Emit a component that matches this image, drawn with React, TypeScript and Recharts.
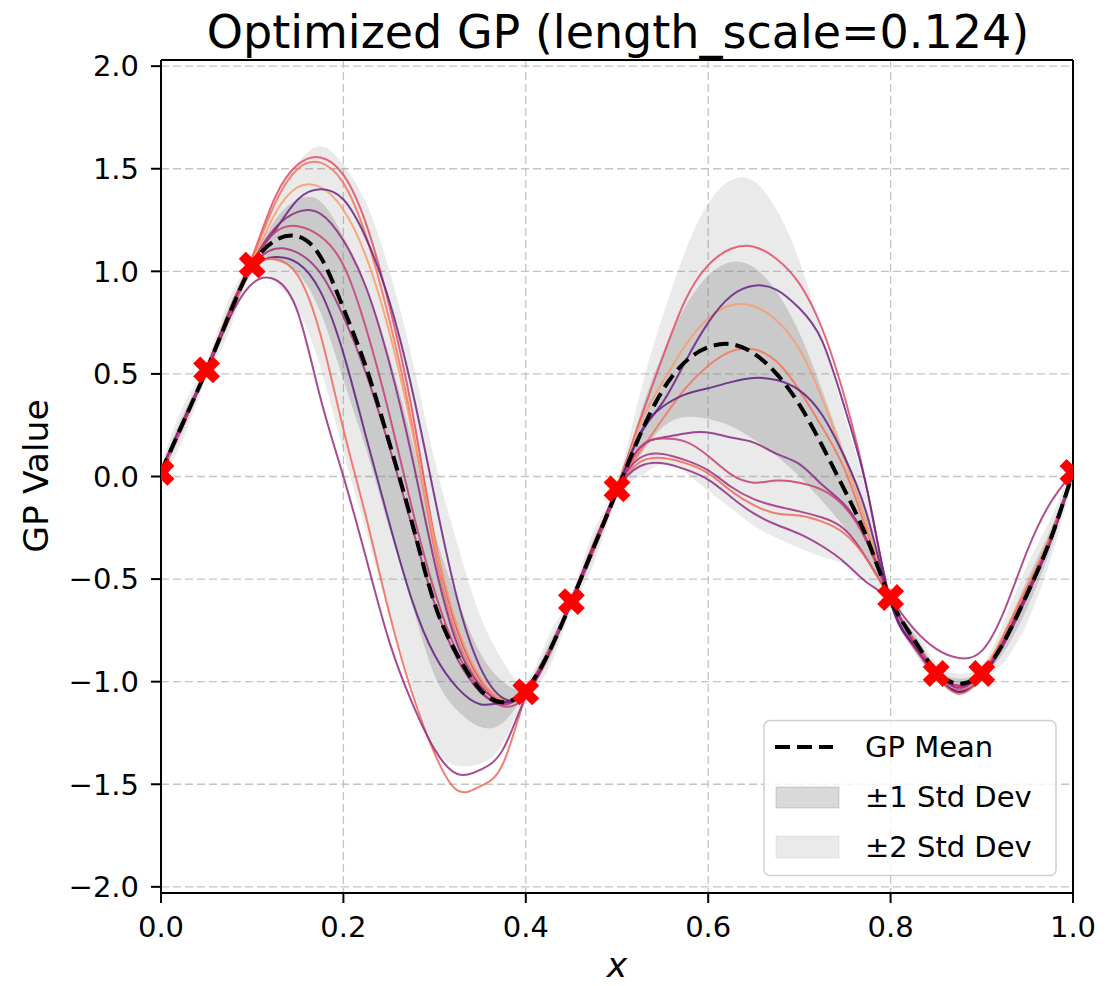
import React from 'react';
import {
  ComposedChart, Line, Area, Scatter, XAxis, YAxis, CartesianGrid, ReferenceLine,
} from 'recharts';

const X_GRID = [
  0, 0.025, 0.05, 0.075, 0.1, 0.125, 0.15, 0.175, 0.2, 0.225,
  0.25, 0.275, 0.3, 0.325, 0.35, 0.375, 0.4, 0.425, 0.45, 0.475,
  0.5, 0.525, 0.55, 0.575, 0.6, 0.625, 0.65, 0.675, 0.7, 0.725,
  0.75, 0.775, 0.8, 0.825, 0.85, 0.875, 0.9, 0.925, 0.95, 0.975, 1.0,
];

const GP_MEAN = [
  0.02, 0.27, 0.52, 0.79, 1.03, 1.15, 1.17, 1.07, 0.82, 0.53,
  0.17, -0.22, -0.62, -0.87, -1.04, -1.10, -1.04, -0.86, -0.61, -0.34,
  -0.07, 0.20, 0.42, 0.56, 0.63, 0.645, 0.60, 0.50, 0.35, 0.15,
  -0.07, -0.31, -0.60, -0.79, -0.95, -1.01, -0.96, -0.80, -0.57, -0.31, 0.02,
];

const GP_STD = [
  0.02, 0.04, 0.02, 0.04, 0.02, 0.10, 0.18, 0.27, 0.35, 0.40,
  0.42, 0.40, 0.35, 0.27, 0.18, 0.10, 0.02, 0.04, 0.02, 0.04,
  0.02, 0.10, 0.18, 0.27, 0.35, 0.40, 0.42, 0.40, 0.35, 0.27,
  0.18, 0.10, 0.02, 0.03, 0.02, 0.025, 0.02, 0.05, 0.07, 0.05, 0.02,
];

const SAMPLE_1 = [
  0.03, 0.28, 0.53, 0.81, 1.07, 1.36, 1.52, 1.555, 1.47, 1.23,
  0.84, 0.33, -0.30, -0.75, -0.99, -1.09, -1.05, -0.86, -0.60, -0.32,
  -0.05, 0.27, 0.58, 0.86, 1.03, 1.11, 1.12, 1.06, 0.94, 0.72,
  0.38, -0.08, -0.61, -0.83, -0.98, -1.04, -0.98, -0.80, -0.57, -0.31, 0.02,
];
const SAMPLE_2 = [
  0.01, 0.26, 0.52, 0.80, 1.06, 1.33, 1.50, 1.53, 1.43, 1.17,
  0.77, 0.26, -0.36, -0.79, -1.01, -1.09, -1.05, -0.85, -0.61, -0.34,
  -0.06, 0.12, 0.28, 0.43, 0.54, 0.61, 0.62, 0.56, 0.42, 0.24,
  0.03, -0.28, -0.59, -0.81, -0.97, -1.05, -0.97, -0.79, -0.56, -0.32, 0.02,
];
const SAMPLE_3 = [
  0.02, 0.27, 0.51, 0.79, 1.04, 1.28, 1.41, 1.41, 1.30, 1.07,
  0.71, 0.23, -0.31, -0.73, -0.98, -1.09, -1.05, -0.86, -0.62, -0.35,
  -0.08, 0.25, 0.46, 0.64, 0.77, 0.835, 0.83, 0.76, 0.62, 0.38,
  0.08, -0.25, -0.60, -0.80, -0.96, -1.03, -0.95, -0.76, -0.53, -0.29, 0.02,
];
const SAMPLE_4 = [
  0.03, 0.28, 0.52, 0.79, 1.04, 1.20, 1.35, 1.40, 1.35, 1.16,
  0.86, 0.43, -0.10, -0.60, -0.93, -1.08, -1.06, -0.87, -0.61, -0.33,
  -0.07, 0.20, 0.36, 0.56, 0.75, 0.88, 0.93, 0.91, 0.82, 0.66,
  0.33, -0.08, -0.61, -0.82, -0.97, -1.05, -0.98, -0.81, -0.58, -0.32, 0.01,
];
const SAMPLE_5 = [
  0.02, 0.26, 0.52, 0.80, 1.04, 1.21, 1.29, 1.28, 1.15, 0.92,
  0.56, 0.10, -0.42, -0.82, -1.02, -1.10, -1.05, -0.85, -0.60, -0.33,
  -0.06, 0.14, 0.19, 0.21, 0.215, 0.19, 0.165, 0.11, 0.06, -0.04,
  -0.14, -0.32, -0.60, -0.80, -0.96, -1.02, -0.96, -0.79, -0.56, -0.30, 0.03,
];
const SAMPLE_6 = [
  0.02, 0.27, 0.53, 0.80, 1.04, 1.19, 1.22, 1.17, 1.03, 0.72,
  0.31, -0.15, -0.56, -0.86, -1.04, -1.12, -1.07, -0.87, -0.61, -0.34,
  -0.07, 0.14, 0.185, 0.17, 0.10, 0.01, -0.03, -0.02, -0.03, -0.065,
  -0.15, -0.33, -0.60, -0.79, -0.95, -1.02, -0.97, -0.81, -0.58, -0.32, 0.02,
];
const SAMPLE_7 = [
  0.02, 0.27, 0.52, 0.79, 1.02, 1.11, 1.09, 0.99, 0.78, 0.50,
  0.15, -0.24, -0.62, -0.89, -1.05, -1.11, -1.05, -0.86, -0.61, -0.34,
  -0.06, 0.09, 0.11, 0.08, 0.03, -0.05, -0.11, -0.145, -0.17, -0.20,
  -0.26, -0.41, -0.59, -0.74, -0.84, -0.885, -0.85, -0.65, -0.36, -0.13, 0.02,
];
const SAMPLE_8 = [
  0.03, 0.27, 0.52, 0.79, 1.01, 1.07, 1.04, 0.90, 0.60, 0.19,
  -0.22, -0.60, -0.87, -1.03, -1.11, -1.10, -1.05, -0.86, -0.62, -0.35,
  -0.07, 0.21, 0.34, 0.40, 0.43, 0.46, 0.48, 0.47, 0.42, 0.30,
  0.09, -0.20, -0.61, -0.82, -0.97, -1.05, -0.98, -0.80, -0.57, -0.31, 0.02,
];
const SAMPLE_9 = [
  0.01, 0.26, 0.52, 0.78, 1.01, 1.06, 0.98, 0.69, 0.23, -0.20,
  -0.66, -1.05, -1.35, -1.53, -1.51, -1.40, -1.07, -0.85, -0.61, -0.35,
  -0.07, 0.07, 0.09, 0.065, 0.015, -0.07, -0.14, -0.18, -0.19, -0.22,
  -0.28, -0.41, -0.60, -0.80, -0.97, -1.06, -0.97, -0.77, -0.54, -0.30, 0.02,
];
const SAMPLE_10 = [
  0.03, 0.27, 0.51, 0.77, 0.94, 0.96, 0.80, 0.38, 0.00, -0.40,
  -0.80, -1.10, -1.33, -1.45, -1.43, -1.33, -1.07, -0.86, -0.61, -0.34,
  -0.07, 0.05, 0.065, 0.035, -0.015, -0.10, -0.18, -0.235, -0.28, -0.34,
  -0.42, -0.52, -0.61, -0.81, -0.96, -1.03, -0.96, -0.80, -0.57, -0.32, 0.02,
];

const SAMPLES = [SAMPLE_1, SAMPLE_2, SAMPLE_3, SAMPLE_4, SAMPLE_5, SAMPLE_6, SAMPLE_7, SAMPLE_8, SAMPLE_9, SAMPLE_10];
const SAMPLE_COLORS = [
  '#e34e65', '#f4735d', '#fb9b6b', '#6a2383', '#8a2a82',
  '#c83e73', '#a3307e', '#5f1f80', '#f0695c', '#952c80',
];

const TRAIN_X = [0, 0.05, 0.1, 0.4, 0.45, 0.5, 0.8, 0.85, 0.9, 1.0];
const TRAIN_Y = [0.02, 0.52, 1.03, -1.05, -0.61, -0.06, -0.59, -0.96, -0.96, 0.02];

const X_TICKS = [0, 0.2, 0.4, 0.6, 0.8, 1.0];
const Y_TICKS = [-2, -1.5, -1, -0.5, 0, 0.5, 1, 1.5, 2];

const TITLE = 'Optimized GP (length_scale=0.124)';
const X_LABEL = 'x';
const Y_LABEL = 'GP Value';
const LEGEND_LABELS = ['GP Mean', '±1 Std Dev', '±2 Std Dev'];

const FONT = '"DejaVu Sans", "Liberation Sans", sans-serif';

const chartData = X_GRID.map((x, i) => {
  const row: Record<string, any> = {
    x,
    mean: GP_MEAN[i],
    band1: [GP_MEAN[i] - GP_STD[i], GP_MEAN[i] + GP_STD[i]],
    band2: [GP_MEAN[i] - 2 * GP_STD[i], GP_MEAN[i] + 2 * GP_STD[i]],
  };
  SAMPLES.forEach((s, k) => { row['s' + k] = s[i]; });
  return row;
});

const trainData = TRAIN_X.map((x, i) => ({ x, y: TRAIN_Y[i] }));

const fmt = (v: number) => v.toFixed(1).replace('-', '\u2212');

const XMark = (props: any) => {
  const { cx, cy } = props;
  if (cx == null || cy == null) return null;
  const t = 5, L = 14;
  const base = [
    [t, L], [t, t], [L, t], [L, -t], [t, -t], [t, -L],
    [-t, -L], [-t, -t], [-L, -t], [-L, t], [-t, t], [-t, L],
  ];
  const s = Math.SQRT1_2;
  const pts = base.map(([x, y]) => `${cx + (x - y) * s},${cy + (x + y) * s}`).join(' ');
  return <polygon points={pts} fill="#ff0000" stroke="none" />;
};

export default function App() {
  const W = 1104, H = 978;
  return (
    <div style={{ position: 'relative', width: W, height: H, background: '#fff' }}>
      <ComposedChart
        width={W}
        height={970}
        data={chartData}
        margin={{ top: 52, right: 39, left: 0, bottom: 0 }}
      >
        <CartesianGrid stroke="#c4c4c4" strokeDasharray="8 4" strokeWidth={1.3} />
        <XAxis
          dataKey="x"
          type="number"
          domain={[0, 1]}
          ticks={X_TICKS}
          tickFormatter={fmt}
          allowDataOverflow
          height={85}
          tickSize={10}
          tickMargin={13}
          axisLine={{ stroke: '#000', strokeWidth: 2 }}
          tickLine={{ stroke: '#000', strokeWidth: 2 }}
          tick={{ fill: '#000', fontSize: 29, fontFamily: FONT }}
        />
        <YAxis
          type="number"
          domain={[-2.03, 2.03]}
          ticks={Y_TICKS}
          tickFormatter={fmt}
          allowDataOverflow
          width={153}
          tickSize={10}
          tickMargin={12}
          axisLine={{ stroke: '#000', strokeWidth: 2 }}
          tickLine={{ stroke: '#000', strokeWidth: 2 }}
          tick={{ fill: '#000', fontSize: 29, fontFamily: FONT }}
        />
        <Area
          dataKey="band2"
          type="natural"
          fill="#808080"
          fillOpacity={0.17}
          stroke="none"
          isAnimationActive={false}
          activeDot={false}
        />
        <Area
          dataKey="band1"
          type="natural"
          fill="#808080"
          fillOpacity={0.3}
          stroke="none"
          isAnimationActive={false}
          activeDot={false}
        />
        {SAMPLES.map((_, k) => (
          <Line
            key={k}
            dataKey={'s' + k}
            type="natural"
            stroke={SAMPLE_COLORS[k]}
            strokeOpacity={0.85}
            strokeWidth={2}
            dot={false}
            activeDot={false}
            isAnimationActive={false}
          />
        ))}
        <Line
          dataKey="mean"
          type="natural"
          stroke="#000"
          strokeWidth={4}
          strokeDasharray="15 7"
          dot={false}
          activeDot={false}
          isAnimationActive={false}
        />
        <Scatter data={trainData} dataKey="y" shape={XMark} isAnimationActive={false} />
        <ReferenceLine y={2.03} stroke="#000" strokeWidth={2} />
        <ReferenceLine x={1} stroke="#000" strokeWidth={2} />
      </ComposedChart>
      <svg
        width={W}
        height={H}
        overflow="visible"
        style={{ position: 'absolute', left: 0, top: 0, pointerEvents: 'none', overflow: 'visible' }}
      >
        <text x={610} y={40} textAnchor="middle" fontSize={46} fontFamily={FONT} fill="#000">
          {TITLE}
        </text>
        <text
          x={0}
          y={0}
          transform="translate(40,468) rotate(-90)"
          textAnchor="middle"
          fontSize={34.5}
          fontFamily={FONT}
          fill="#000"
        >
          {Y_LABEL}
        </text>
        <text x={609} y={969} textAnchor="middle" fontSize={34.5} fontStyle="italic" fontFamily={FONT} fill="#000">
          {X_LABEL}
        </text>
        <g>
          <rect x={756} y={712.5} width={292} height={155} rx={6} fill="#fff" fillOpacity={0.8} stroke="#d0d0d0" strokeWidth={1.5} />
          <line x1={767} x2={825} y1={739} y2={739} stroke="#000" strokeWidth={4} strokeDasharray="15 7" />
          <rect x={768} y={779} width={63} height={21} fill="#808080" fillOpacity={0.3} stroke="#808080" strokeOpacity={0.3} />
          <rect x={768} y={828} width={63} height={22} fill="#808080" fillOpacity={0.17} stroke="#808080" strokeOpacity={0.17} />
          <text x={857} y={749} fontSize={29} fontFamily={FONT} fill="#000">{LEGEND_LABELS[0]}</text>
          <text x={857} y={799} fontSize={29} fontFamily={FONT} fill="#000">{LEGEND_LABELS[1]}</text>
          <text x={857} y={849} fontSize={29} fontFamily={FONT} fill="#000">{LEGEND_LABELS[2]}</text>
        </g>
      </svg>
    </div>
  );
}
